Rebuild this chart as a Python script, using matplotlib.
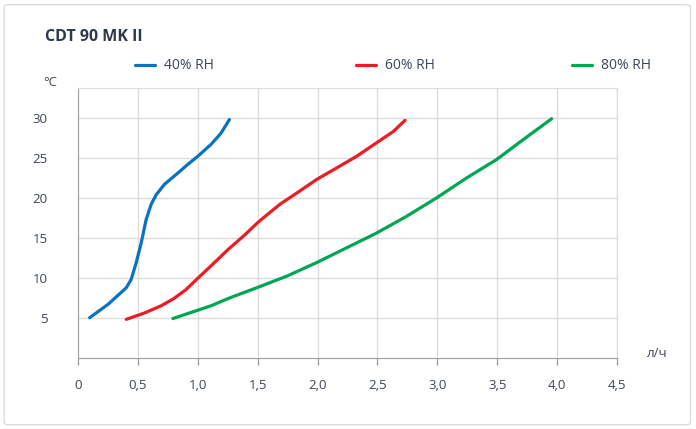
import matplotlib.pyplot as plt
from matplotlib.patches import FancyBboxPatch

plt.rcParams['font.family'] = ['Open Sans', 'DejaVu Sans']

# --- Data ---
x_40 = [0.097, 0.25, 0.403, 0.444, 0.486, 0.528, 0.569, 0.611, 0.653, 0.722, 0.833, 0.917,
        1.0, 1.111, 1.194, 1.264]
y_40 = [5.0, 6.67, 8.75, 9.8, 11.9, 14.4, 17.3, 19.2, 20.4, 21.7, 23.1, 24.2,
        25.2, 26.7, 28.1, 29.8]

x_60 = [0.403, 0.556, 0.694, 0.80, 0.90, 0.99, 1.111, 1.25, 1.38, 1.5, 1.547, 1.686, 1.826,
        1.992, 2.16, 2.326, 2.493, 2.632, 2.73]
y_60 = [4.8, 5.6, 6.5, 7.4, 8.5, 9.8, 11.5, 13.5, 15.2, 16.9, 17.5, 19.2, 20.6,
        22.3, 23.75, 25.2, 26.9, 28.3, 29.7]

x_80 = [0.792, 1.111, 1.269, 1.492, 1.742, 1.992, 2.243, 2.493, 2.744, 2.994, 3.245, 3.495,
        3.718, 3.954]
y_80 = [4.9, 6.5, 7.5, 8.75, 10.2, 11.9, 13.75, 15.6, 17.7, 20.0, 22.5, 24.8,
        27.3, 29.9]

series = [(x_40, y_40, '40% RH', '#0a72c2'),
          (x_60, y_60, '60% RH', '#ec1c24'),
          (x_80, y_80, '80% RH', '#00a651')]

x_ticks = [0, 0.5, 1.0, 1.5, 2.0, 2.5, 3.0, 3.5, 4.0, 4.5]
y_ticks = [5, 10, 15, 20, 25, 30]

text_col = '#3c4656'
grid_col = '#dcdcdc'
axis_col = '#a0a0a0'

fig = plt.figure(figsize=(6.96, 4.29), dpi=100)

# card frame
frame = FancyBboxPatch((0.006, 0.010), 0.986, 0.979, boxstyle='round,pad=0,rounding_size=0.006',
                       transform=fig.transFigure, facecolor='white', edgecolor='#dcdcdc',
                       linewidth=1, zorder=-10)
fig.patches.append(frame)

ax = fig.add_axes([0.1121, 0.1662, 0.7744, 0.6287])
ax.set_facecolor('none')

for xs, ys, lab, col in series:
    ax.plot(xs, ys, color=col, linewidth=2.3, solid_capstyle='round', solid_joinstyle='round', label=lab)

ax.set_xlim(0, 4.5)
ax.set_ylim(0, 33.75)
ax.set_xticks(x_ticks)
ax.set_xticklabels(['0'] + [f'{v:.1f}'.replace('.', ',') for v in x_ticks[1:]])
ax.set_yticks(y_ticks)

ax.grid(True, color=grid_col, linewidth=1)
ax.set_axisbelow(True)
ax.tick_params(axis='x', colors=axis_col, labelcolor=text_col, labelsize=9.5, length=5, width=1, pad=10)
ax.tick_params(axis='y', length=0, labelcolor=text_col, labelsize=9.5, pad=22)

for side in ['top', 'right']:
    ax.spines[side].set_color(grid_col)
for side in ['left', 'bottom']:
    ax.spines[side].set_color(axis_col)

fig.text(0.065, 0.913, 'CDT 90 MK II', fontsize=11.5, fontweight='bold', color='#2d3a4b', va='center')
fig.text(0.072, 0.808, '°C', fontsize=9.5, color=text_col, va='center', ha='center')
fig.text(0.944, 0.177, 'л/ч', fontsize=9.5, color=text_col, va='center', ha='center')

# legend, spread across the top
leg_pos = [(135, '40% RH'), (356, '60% RH'), (572, '80% RH')]
for (px, lab), (_, _, _, col) in zip(leg_pos, series):
    fig.lines.append(plt.Line2D([px / 696, (px + 20) / 696], [0.848, 0.848], transform=fig.transFigure,
                                color=col, linewidth=2.3, solid_capstyle='round'))
    fig.text((px + 29) / 696, 0.848, lab, fontsize=10, color=text_col, va='center')

fig.savefig('out.png', dpi=100)
